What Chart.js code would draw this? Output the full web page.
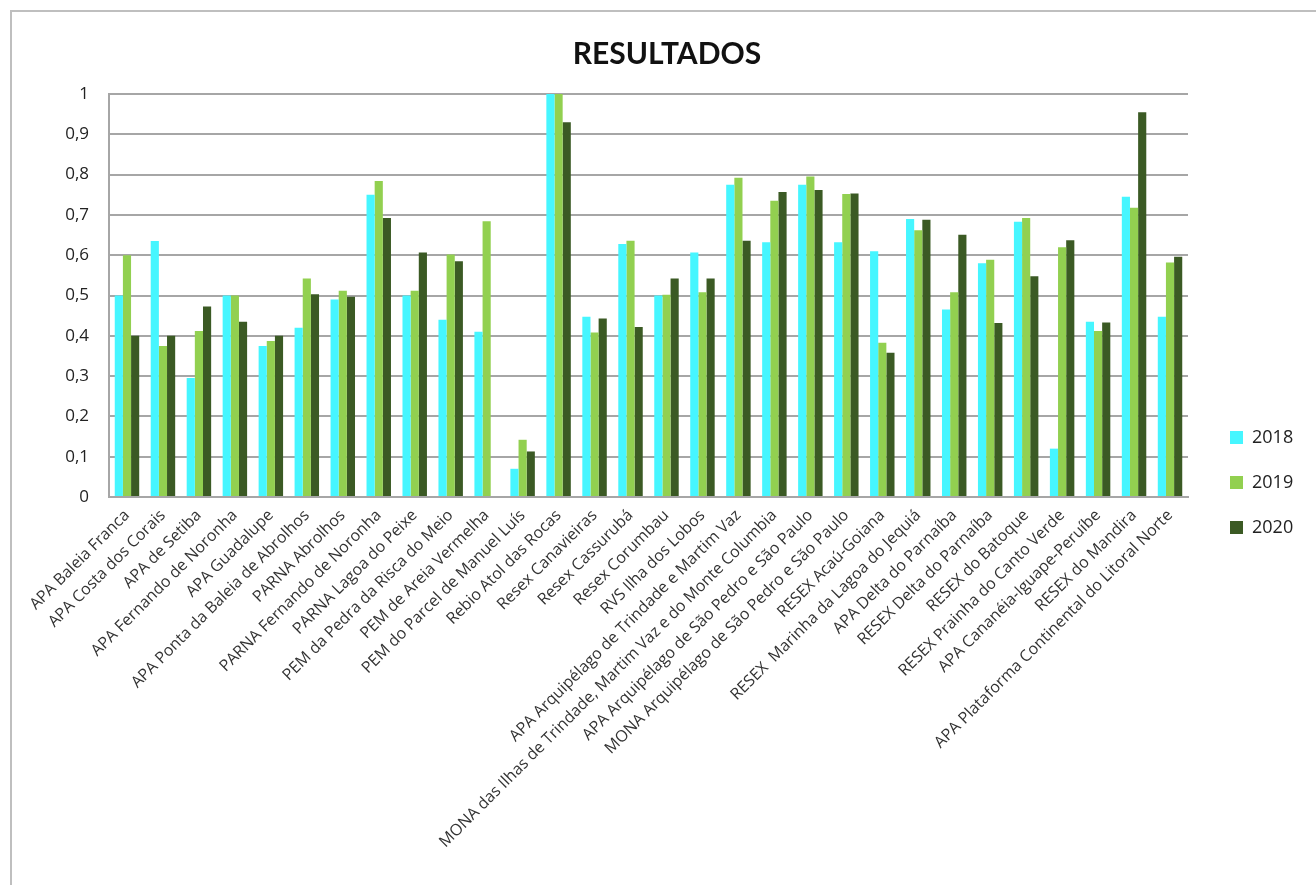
<!DOCTYPE html>
<html>
<head>
<meta charset="utf-8">
<script src="https://cdn.jsdelivr.net/npm/chart.js@4"></script>
<style>
    html, body { margin: 0; padding: 0; background: #fff; overflow: hidden; }
    #moldura { position: absolute; left: 10px; top: 10px; width: 1320px; height: 900px;
               border-left: 2px solid #bfbfbf; border-top: 2px solid #bfbfbf; }
    #caixa { position: absolute; left: 0; top: 0; width: 1316px; height: 885px; }
</style>
</head>
<body>
<div id="moldura"></div>
<div id="caixa"><canvas id="grafica"></canvas></div>
<script>
const unidades = [
    'APA Baleia Franca', 'APA Costa dos Corais', 'APA de Setiba', 'APA Fernando de Noronha',
    'APA Guadalupe', 'APA Ponta da Baleia de Abrolhos', 'PARNA Abrolhos', 'PARNA Fernando de Noronha',
    'PARNA Lagoa do Peixe', 'PEM da Pedra da Risca do Meio', 'PEM de Areia Vermelha',
    'PEM do Parcel de Manuel Luís', 'Rebio Atol das Rocas', 'Resex Canavieiras', 'Resex Cassurubá',
    'Resex Corumbau', 'RVS Ilha dos Lobos', 'APA Arquipélago de Trindade e Martim Vaz',
    'MONA das Ilhas de Trindade, Martim Vaz e do Monte Columbia',
    'APA Arquipélago de São Pedro e São Paulo', 'MONA Arquipélago de São Pedro e São Paulo',
    'RESEX Acaú-Goiana', 'RESEX  Marinha da Lagoa do Jequiá', 'APA Delta do Parnaíba',
    'RESEX Delta do Parnaíba', 'RESEX do Batoque', 'RESEX Prainha do Canto Verde',
    'APA Cananéia-Iguape-Peruíbe', 'RESEX do Mandira', 'APA Plataforma Continental do Litoral Norte'
];

const anos = ['2018', '2019', '2020'];

const valores2018 = [0.50, 0.635, 0.295, 0.50, 0.375, 0.42, 0.49, 0.75, 0.50, 0.44, 0.41,
    0.07, 1.0, 0.447, 0.628, 0.50, 0.607, 0.775, 0.632, 0.775, 0.632,
    0.61, 0.69, 0.465, 0.58, 0.683, 0.12, 0.435, 0.745, 0.447];
const valores2019 = [0.60, 0.375, 0.412, 0.50, 0.387, 0.542, 0.512, 0.784, 0.512, 0.602, 0.684,
    0.142, 1.0, 0.408, 0.636, 0.502, 0.508, 0.792, 0.735, 0.795, 0.752,
    0.383, 0.662, 0.508, 0.589, 0.692, 0.62, 0.412, 0.718, 0.582];
const valores2020 = [0.40, 0.40, 0.473, 0.435, 0.40, 0.503, 0.497, 0.692, 0.607, 0.585, 0,
    0.113, 0.93, 0.443, 0.422, 0.542, 0.542, 0.636, 0.757, 0.762, 0.753,
    0.358, 0.688, 0.651, 0.432, 0.548, 0.637, 0.433, 0.955, 0.596];

const cores = ['#46F6FF', '#92D050', '#3B5A24'];
const marcasY = [0, 0.1, 0.2, 0.3, 0.4, 0.5, 0.6, 0.7, 0.8, 0.9, 1];

const fonte = "'Open Sans', Lato, sans-serif";
const series = [valores2018, valores2019, valores2020];

// a legenda fica a 42px do gráfico e um pouco mais abaixo, como no Excel
const ajusteLegenda = {
    id: 'ajusteLegenda',
    beforeLayout(chart) {
        const lg = chart.legend;
        if (lg && !lg._ajustado) {
            const fitOriginal = lg.fit.bind(lg);
            lg.fit = () => { fitOriginal(); lg.width = 108; };
            lg._ajustado = true;
        }
    },
    afterLayout(chart) {
        chart.legend.left += 15;
        chart.legend.right += 15;
        chart.legend.top += 40;
        chart.legend.bottom += 40;
    }
};

const ctx = document.getElementById('grafica').getContext('2d');
const chart = new Chart(ctx, {
    type: 'bar',
    data: {
        labels: unidades,
        datasets: anos.map((ano, i) => ({
            label: ano,
            data: series[i],
            backgroundColor: cores[i],
            borderWidth: 0,
            categoryPercentage: 0.68,
            barPercentage: 1.0
        }))
    },
    options: {
        responsive: true,
        maintainAspectRatio: false,
        animation: false,
        layout: { padding: { left: 38, right: 20, top: 0, bottom: 0 } },
        plugins: {
            title: {
                display: true,
                text: 'RESULTADOS',
                color: '#111',
                font: { family: 'Lato, sans-serif', size: 30, weight: 'bold' },
                padding: { top: 36, bottom: 22 }
            },
            legend: {
                position: 'right',
                labels: {
                    boxWidth: 13,
                    boxHeight: 13,
                    padding: 27,
                    color: '#222',
                    font: { family: fonte, size: 18 }
                }
            },
            tooltip: { enabled: false }
        },
        scales: {
            x: {
                grid: { display: false, drawTicks: false },
                border: { color: '#a6a6a6', width: 2 },
                ticks: {
                    autoSkip: false,
                    minRotation: 45,
                    maxRotation: 45,
                    padding: 9,
                    color: '#333',
                    font: { family: fonte, size: 16 }
                },
                afterFit: s => { s.height = 388; }
            },
            y: {
                min: 0,
                max: 1,
                afterBuildTicks: s => { s.ticks = marcasY.map(v => ({ value: v })); },
                grid: { color: '#a6a6a6', lineWidth: 2, drawTicks: false },
                border: { color: '#a6a6a6', width: 2 },
                ticks: {
                    padding: 20,
                    color: '#222',
                    font: { family: fonte, size: 17 },
                    callback: v => v === 0 ? '0' : v === 1 ? '1' : v.toFixed(1).replace('.', ',')
                },
                afterFit: s => { s.width = 71; }
            }
        }
    },
    plugins: [ajusteLegenda]
});
</script>
</body>
</html>
